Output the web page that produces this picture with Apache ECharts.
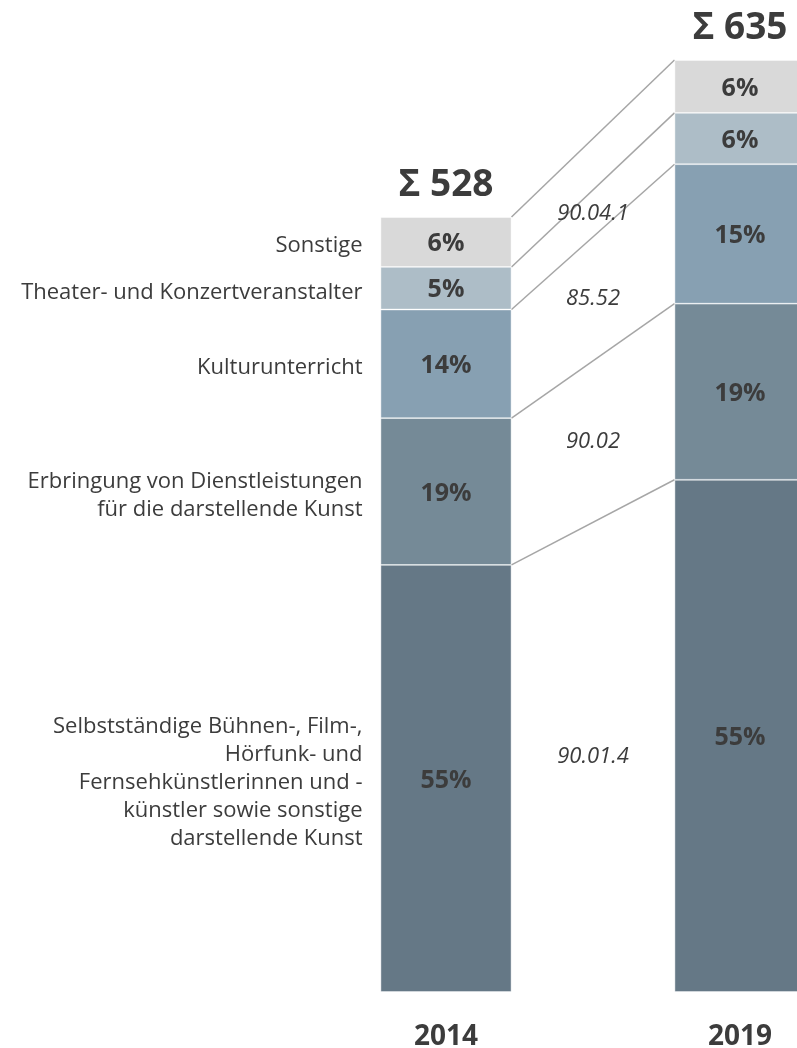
<!DOCTYPE html>
<html lang="de">
<head>
<meta charset="utf-8">
<title>Darstellende Kunst – Struktur 2014 und 2019</title>
<script src="https://cdn.jsdelivr.net/npm/echarts@6/dist/echarts.min.js"></script>
<style>
  html, body { margin: 0; padding: 0; background: #ffffff; }
  #chart { width: 797px; height: 1048px; }
</style>
</head>
<body>
<div id="chart"></div>
<script>
// Jahre auf der Kategorienachse
const years = ['2014', '2019'];

// Teilbereiche von unten nach oben
const segmentNames = [
  'Selbstständige Bühnen-, Film-,\nHörfunk- und\nFernsehkünstlerinnen und -\nkünstler sowie sonstige\ndarstellende Kunst',
  'Erbringung von Dienstleistungen\nfür die darstellende Kunst',
  'Kulturunterricht',
  'Theater- und Konzertveranstalter',
  'Sonstige'
];

// WZ-Kennziffern der Teilbereiche
const segmentCodes = ['90.01.4', '90.02', '85.52', '90.04.1', ''];

// Werte je Teilbereich (gleiche Reihenfolge wie oben)
const values2014 = [291, 100, 74, 29, 34];
const values2019 = [349, 120, 95, 35, 36];

const segmentColors = ['#657886', '#758a97', '#87a0b2', '#adbdc7', '#d9d9d9'];

const FONT = '"Open Sans", "Noto Sans", sans-serif';
const TEXT = '#3c3c3c';
const BAR_WIDTH = 131;

const sum = arr => arr.reduce((a, b) => a + b, 0);
const totals = [sum(values2014), sum(values2019)];

// kumulierte Obergrenzen je Teilbereich
function cumulative(arr) {
  const out = [];
  let acc = 0;
  arr.forEach(v => { acc += v; out.push(acc); });
  return out;
}
const top2014 = cumulative(values2014);
const top2019 = cumulative(values2019);

const barSeries = segmentNames.map((name, i) => ({
  name: name,
  type: 'bar',
  stack: 'gesamt',
  barWidth: BAR_WIDTH,
  data: [values2014[i], values2019[i]],
  itemStyle: {
    color: segmentColors[i],
    borderColor: 'rgba(255,255,255,0.55)',
    borderWidth: 0.8
  },
  label: {
    show: true,
    position: 'inside',
    offset: [0, 2],
    fontFamily: FONT,
    fontWeight: 'bold',
    fontSize: 25,
    color: TEXT,
    formatter: p => Math.round(p.value / totals[p.dataIndex] * 100) + '%'
  },
  silent: true
}));

// Verbindungslinien, Kennziffern und Beschriftungen der Teilbereiche
const connectorSeries = {
  type: 'custom',
  data: segmentNames.map(() => [0, 0]),
  encode: { x: 0, y: 1 },
  silent: true,
  z: 1,
  renderItem: function (params, api) {
    const i = params.dataIndex;
    const half = BAR_WIDTH / 2;
    const low14 = i === 0 ? 0 : top2014[i - 1];
    const low19 = i === 0 ? 0 : top2019[i - 1];
    const a = api.coord([0, top2014[i]]);
    const b = api.coord([1, top2019[i]]);
    const aLow = api.coord([0, low14]);
    const bLow = api.coord([1, low19]);
    const x1 = a[0] + half;
    const x2 = b[0] - half;
    const midX = (x1 + x2) / 2;
    const midY = (a[1] + b[1] + aLow[1] + bLow[1]) / 4;
    const children = [
      {
        type: 'line',
        shape: { x1: x1, y1: a[1], x2: x2, y2: b[1] },
        style: { stroke: '#a6a6a6', lineWidth: 1.5 }
      },
      {
        type: 'text',
        style: {
          text: segmentNames[i],
          x: a[0] - half - 18,
          y: (a[1] + aLow[1]) / 2 + 4,
          align: 'right',
          verticalAlign: 'middle',
          fontFamily: FONT,
          fontSize: 22,
          lineHeight: 28,
          fill: TEXT
        }
      }
    ];
    if (segmentCodes[i]) {
      children.push({
        type: 'text',
        style: {
          text: segmentCodes[i],
          x: midX,
          y: midY,
          align: 'center',
          verticalAlign: 'middle',
          fontFamily: FONT,
          fontStyle: 'italic',
          fontSize: 22,
          fill: TEXT
        }
      });
    }
    return { type: 'group', children: children };
  }
};

// Summen über den Säulen
const totalSeries = {
  type: 'scatter',
  data: totals,
  symbolSize: 0,
  silent: true,
  itemStyle: { opacity: 1 },
  label: {
    show: true,
    position: 'top',
    distance: 13,
    fontFamily: FONT,
    fontWeight: 'bold',
    fontSize: 37,
    color: TEXT,
    opacity: 1,
    formatter: p => 'Σ ' + p.value
  }
};

const chart = echarts.init(document.getElementById('chart'), null, { renderer: 'canvas' });
chart.setOption({
  animation: false,
  backgroundColor: '#ffffff',
  grid: {
    left: 299,
    width: 588,
    top: 38,
    height: 954,
    containLabel: false,
    outerBoundsMode: 'none'
  },
  xAxis: {
    type: 'category',
    data: years,
    axisLine: { show: false },
    axisTick: { show: false },
    axisLabel: {
      margin: 31,
      fontFamily: FONT,
      fontWeight: 'bold',
      fontSize: 28,
      color: TEXT
    }
  },
  yAxis: {
    type: 'value',
    min: 0,
    max: 650,
    show: false,
    splitLine: { show: false }
  },
  series: [connectorSeries].concat(barSeries, [totalSeries])
});
</script>
</body>
</html>
